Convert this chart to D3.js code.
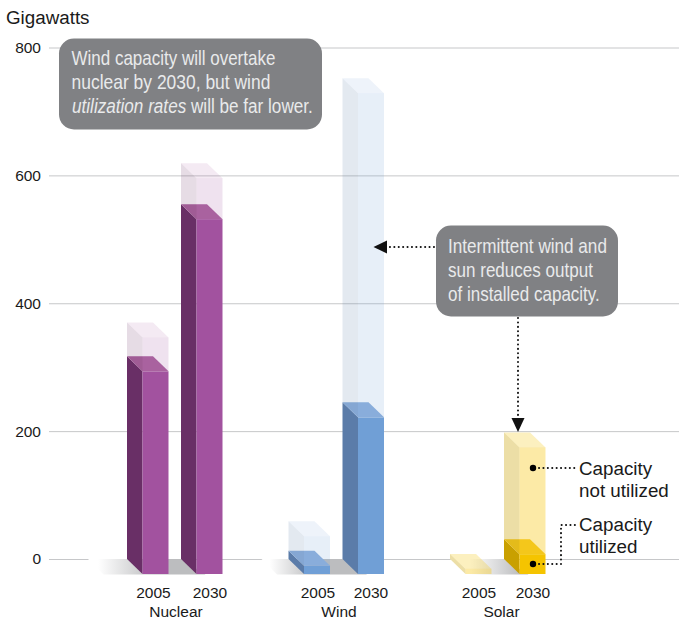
<!DOCTYPE html>
<html><head><meta charset="utf-8">
<script src="https://cdnjs.cloudflare.com/ajax/libs/d3/7.8.5/d3.min.js"></script>
<style>
html,body{margin:0;padding:0;background:#fff}
svg{display:block}
text{font-family:"Liberation Sans",Arial,sans-serif;fill:#1a1a1a}
.note{font-family:"Liberation Sans Narrow","Liberation Sans",sans-serif;fill:#e9eaeb;font-size:20px}
</style></head><body>
<div id="chart"></div>
<script>
const categories=["Nuclear","Wind","Solar"];
const years=["2005","2030"];
const utilized=[[317,555],[13,245],[0,31]];
const capacity=[[370,619],[59,752],[8,198]];
const yTicks=[0,200,400,600,800];
const noteA=["Wind capacity will overtake","nuclear by 2030, but wind"];
const noteB=["Intermittent wind and","sun reduces output","of installed capacity."];
const frontColors=["#a2529f","#709fd6","#f5c400"];
const sideColors=["#692f66","#5b7ca9","#c9a000"];
const topColors=["#ab659f","#8eb0dc","#f3c92a"];
const ghostOpacity=[0.17,0.17,0.35];

// layout nudges (not data)
const shadowLead=[39,27,0], fadeStart=[10,8,20], fadeEnd=[28,25,70];
const yearNudge=[[26.5,29],[29.5,28.5],[29,29]], catNudge=[49,50.5,51.5];

const W=679,H=620,DX=15.5,DY=15,BW=26;
const svg=d3.select("#chart").append("svg").attr("width",W).attr("height",H);
const y=d3.scaleLinear().domain([0,800]).range([559,47.5]);
const xCat=d3.scalePoint().domain(categories).range([127,450]);
const xYear=d3.scalePoint().domain(years).range([0,54]);
const bx=(c,yr)=>xCat(categories[c])+xYear(years[yr]);

// grid + axis
const axis=d3.axisLeft(y).tickValues(yTicks).tickSize(-(W-49)).tickPadding(8);
const gAxis=svg.append("g").attr("transform","translate(49,0)").call(axis);
gAxis.select(".domain").remove();
gAxis.selectAll("line").attr("stroke","#c6c7c9").attr("stroke-width",1);
gAxis.selectAll("text").style("font-family",'"Liberation Sans"').style("font-size","15.5px").attr("fill","#1a1a1a");
svg.append("text").attr("x",6).attr("y",24).attr("font-size",18.8).text("Gigawatts");

// shadows
const defs=svg.append("defs");
categories.forEach((cat,c)=>{
  const x0=bx(c,0), x1=bx(c,1);
  const left=x0-shadowLead[c], right=x1+DX+9;
  const id="sh"+c;
  const g=defs.append("linearGradient").attr("id",id).attr("gradientUnits","userSpaceOnUse")
    .attr("x1",left+fadeStart[c]).attr("x2",x0+fadeEnd[c]).attr("y1",0).attr("y2",0);
  g.append("stop").attr("offset",0).attr("stop-color","#fff");
  g.append("stop").attr("offset",1).attr("stop-color","#bcbdbf");
  svg.append("path").attr("fill",`url(#${id})`)
    .attr("d",d3.line()([[left,y(0)],[x1,y(0)],[right,y(0)+DY+.5],[left+DX,y(0)+DY+.5]])+"Z");
});

// bars
function box(g,x,yTop,yBot,front,side,top){
  g.append("path").attr("fill",side)
    .attr("d",d3.line()([[x,yTop],[x+DX,yTop+DY],[x+DX,yBot+DY],[x,yBot]])+"Z");
  g.append("rect").attr("x",x+DX).attr("y",yTop+DY).attr("width",BW).attr("height",yBot-yTop).attr("fill",front);
  g.append("path").attr("fill",top)
    .attr("d",d3.line()([[x,yTop],[x+BW,yTop],[x+BW+DX,yTop+DY],[x+DX,yTop+DY]])+"Z");
}
categories.forEach((cat,c)=>{
  const g=svg.append("g");
  years.forEach((yr,i)=>{
    const x=bx(c,i),u=utilized[c][i],t=capacity[c][i];
    if(u>0) box(g,x,y(u),y(0),frontColors[c],sideColors[c],topColors[c]);
    const go=ghostOpacity[c];
    g.append("path").attr("fill",sideColors[c]).attr("fill-opacity",go)
      .attr("d",d3.line()([[x,y(t)],[x+DX,y(t)+DY],[x+DX,y(u)+DY],[x,y(u)]])+"Z");
    g.append("rect").attr("x",x+DX).attr("y",y(t)+DY).attr("width",BW).attr("height",y(u)-y(t))
      .attr("fill",frontColors[c]).attr("fill-opacity",go);
    g.append("path").attr("fill",frontColors[c]).attr("fill-opacity",go*.72)
      .attr("d",d3.line()([[x,y(t)],[x+BW,y(t)],[x+BW+DX,y(t)+DY],[x+DX,y(t)+DY]])+"Z");
    svg.append("text").attr("x",x+yearNudge[c][i]).attr("y",598).attr("text-anchor","middle").attr("font-size",15.5).text(yr);
  });
  svg.append("text").attr("x",bx(c,0)+catNudge[c]).attr("y",617).attr("text-anchor","middle").attr("font-size",15.5).text(cat);
});

// callouts
const rr=(x,yy,w,h)=>svg.append("rect").attr("x",x).attr("y",yy).attr("width",w).attr("height",h).attr("rx",15).attr("fill","#808184");
// each note line is fitted to its measured width by a horizontal scale
const fit=(t,x,yy,len)=>{
  const natural=t.node().getComputedTextLength();
  t.attr("transform",`translate(${x},${yy}) scale(${len/natural},1)`);
  return t;
};
const ln=(s,x,yy,len)=>fit(svg.append("text").attr("class","note").text(s),x,yy,len);
const dots=(d)=>svg.append("path").attr("d",d3.line()(d)).attr("fill","none").attr("stroke","#111")
  .attr("stroke-width",2).attr("stroke-linecap","round").attr("stroke-dasharray","0.1 4.3");

dots([[434,247],[386,247]]);
dots([[518,318],[518,418]]);
svg.append("path").attr("fill","#111").attr("d",d3.line()([[373.5,247],[387,240.5],[387,253.5]])+"Z");
svg.append("path").attr("fill","#111").attr("d",d3.line()([[518,432],[511.5,418],[524.5,418]])+"Z");

rr(59,38.5,263,91);
ln(noteA[0],71.5,65,204);
ln(noteA[1],71.5,89,199);
const mixed=svg.append("text").attr("class","note");
mixed.append("tspan").style("font-style","italic").text("utilization rates");
mixed.append("tspan").text(" will be far lower.");
fit(mixed,72,113,241);

rr(436,225.5,182,91);
ln(noteB[0],448,252.7,159);
ln(noteB[1],448,276.7,145);
ln(noteB[2],448,300.7,152);

// legend annotations
const dotX=bx(2,1)+DX+13.5;
svg.append("circle").attr("cx",dotX).attr("cy",468).attr("r",3.2).attr("fill","#000");
svg.append("circle").attr("cx",dotX).attr("cy",564).attr("r",3.2).attr("fill","#000");
dots([[dotX+6,468],[575,468]]);
dots([[dotX+6,564],[561,564],[561,525],[577,525]]);
[["Capacity",475],["not utilized",497],["Capacity",530.7],["utilized",552.7]].forEach(d=>
  svg.append("text").attr("x",579).attr("y",d[1]).attr("font-size",18.8).text(d[0]));
</script>
</body></html>
